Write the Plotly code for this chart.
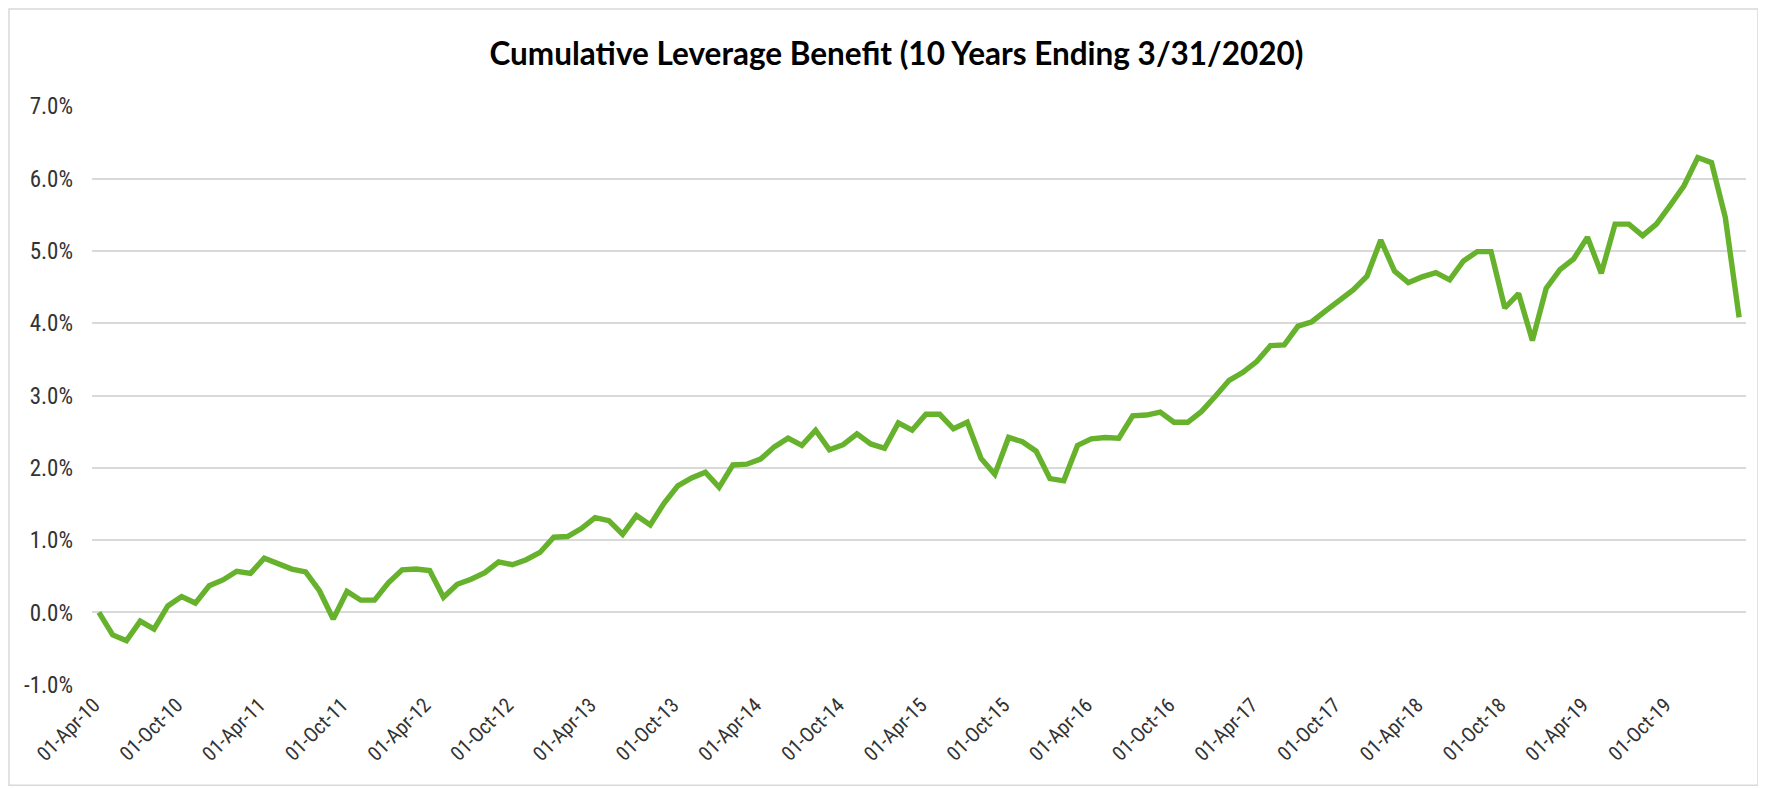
import pandas as pd
import plotly.graph_objects as go

# Monthly dates, Apr-2010 .. Mar-2020 (categories)
months = pd.date_range("2010-04-01", periods=120, freq="MS")
categories = [d.strftime("%d-%b-%y") for d in months]

# Cumulative leverage benefit, in percent
benefit_pct = [
    0.00, -0.31, -0.39, -0.12, -0.23, 0.09, 0.22, 0.13, 0.37, 0.45,
    0.57, 0.54, 0.75, 0.68, 0.60, 0.56, 0.30, -0.09, 0.29, 0.17,
    0.17, 0.41, 0.59, 0.60, 0.58, 0.21, 0.39, 0.46, 0.55, 0.70,
    0.66, 0.73, 0.83, 1.04, 1.05, 1.16, 1.31, 1.27, 1.08, 1.34,
    1.21, 1.51, 1.75, 1.86, 1.94, 1.73, 2.04, 2.05, 2.12, 2.29,
    2.41, 2.31, 2.52, 2.25, 2.32, 2.47, 2.33, 2.27, 2.62, 2.52,
    2.74, 2.74, 2.54, 2.63, 2.13, 1.91, 2.42, 2.36, 2.23, 1.85,
    1.82, 2.31, 2.40, 2.42, 2.41, 2.72, 2.73, 2.77, 2.63, 2.63,
    2.78, 2.99, 3.21, 3.32, 3.47, 3.69, 3.70, 3.96, 4.02, 4.17,
    4.31, 4.46, 4.65, 5.15, 4.72, 4.56, 4.64, 4.70, 4.60, 4.86,
    4.99, 4.99, 4.21, 4.41, 3.76, 4.48, 4.74, 4.89, 5.19, 4.69,
    5.37, 5.37, 5.21, 5.37, 5.63, 5.90, 6.29, 6.22, 5.46, 4.08,
]

tick_labels = [
    "01-Apr-10", "01-Oct-10", "01-Apr-11", "01-Oct-11", "01-Apr-12",
    "01-Oct-12", "01-Apr-13", "01-Oct-13", "01-Apr-14", "01-Oct-14",
    "01-Apr-15", "01-Oct-15", "01-Apr-16", "01-Oct-16", "01-Apr-17",
    "01-Oct-17", "01-Apr-18", "01-Oct-18", "01-Apr-19", "01-Oct-19",
]
y_ticks = [-1, 0, 1, 2, 3, 4, 5, 6, 7]

title_text = "Cumulative Leverage Benefit (10 Years Ending 3/31/2020)"

# page body adds an 8px offset; figure sized to fit the window
OFF = 8
W, H = 1766 - OFF, 789 - OFF
L, T = 92 - OFF, 106 - OFF
pw, ph = 1654, 578.8
R, B = W - L - pw, H - T - ph

def px_to_paper(x, y):
    # x, y in window pixels
    fx, fy = x - OFF, y - OFF
    return (fx - L) / pw, (T + ph - fy) / ph

fig = go.Figure()
fig.add_trace(go.Scatter(
    x=categories, y=benefit_pct, mode="lines",
    line=dict(color="#67b22c", width=5.4),
    hoverinfo="x+y",
))

narrow = "Liberation Sans Narrow, Arial Narrow, Roboto Condensed, sans-serif"

x0, y0 = px_to_paper(9, 9)
x1, y1 = px_to_paper(1758, 785)

fig.update_layout(
    width=W, height=H,
    margin=dict(l=L, r=R, t=T, b=B),
    paper_bgcolor="white", plot_bgcolor="white",
    showlegend=False,
    title=dict(
        text=title_text, x=(896.5 - OFF) / W, xanchor="center",
        y=1 - (54 - OFF) / H, yanchor="middle",
        font=dict(family="Lato, Open Sans, sans-serif", size=31.5, color="#000000", weight="bold"),
    ),
    xaxis=dict(
        type="category",
        range=[-0.5, len(categories) - 0.5],
        tickmode="array",
        tickvals=[categories[i] for i in range(0, 120, 6)],
        ticktext=tick_labels,
        tickangle=-45,
        showgrid=False, zeroline=False, showline=False,
        ticks="",
        tickfont=dict(family=narrow, size=20.5, color="#333333"),
        ticklabelstandoff=3,
        ticklabelshift=-5,
    ),
    yaxis=dict(
        range=[-1.003, 7.003],
        tickmode="array",
        tickvals=y_ticks,
        ticktext=[f"{v:.1f}%" for v in y_ticks],
        showgrid=True, gridcolor="#d9d9d9", gridwidth=1.5,
        zeroline=False, showline=False, ticks="",
        tickfont=dict(family=narrow, size=23, color="#333333"),
        ticklabelstandoff=18,
    ),
    shapes=[dict(
        type="rect", xref="paper", yref="paper",
        x0=x0, y0=y0, x1=x1, y1=y1,
        line=dict(color="#d9d9d9", width=1.5), fillcolor="rgba(0,0,0,0)",
        layer="below",
    )],
)

fig.write_html("out.html")
